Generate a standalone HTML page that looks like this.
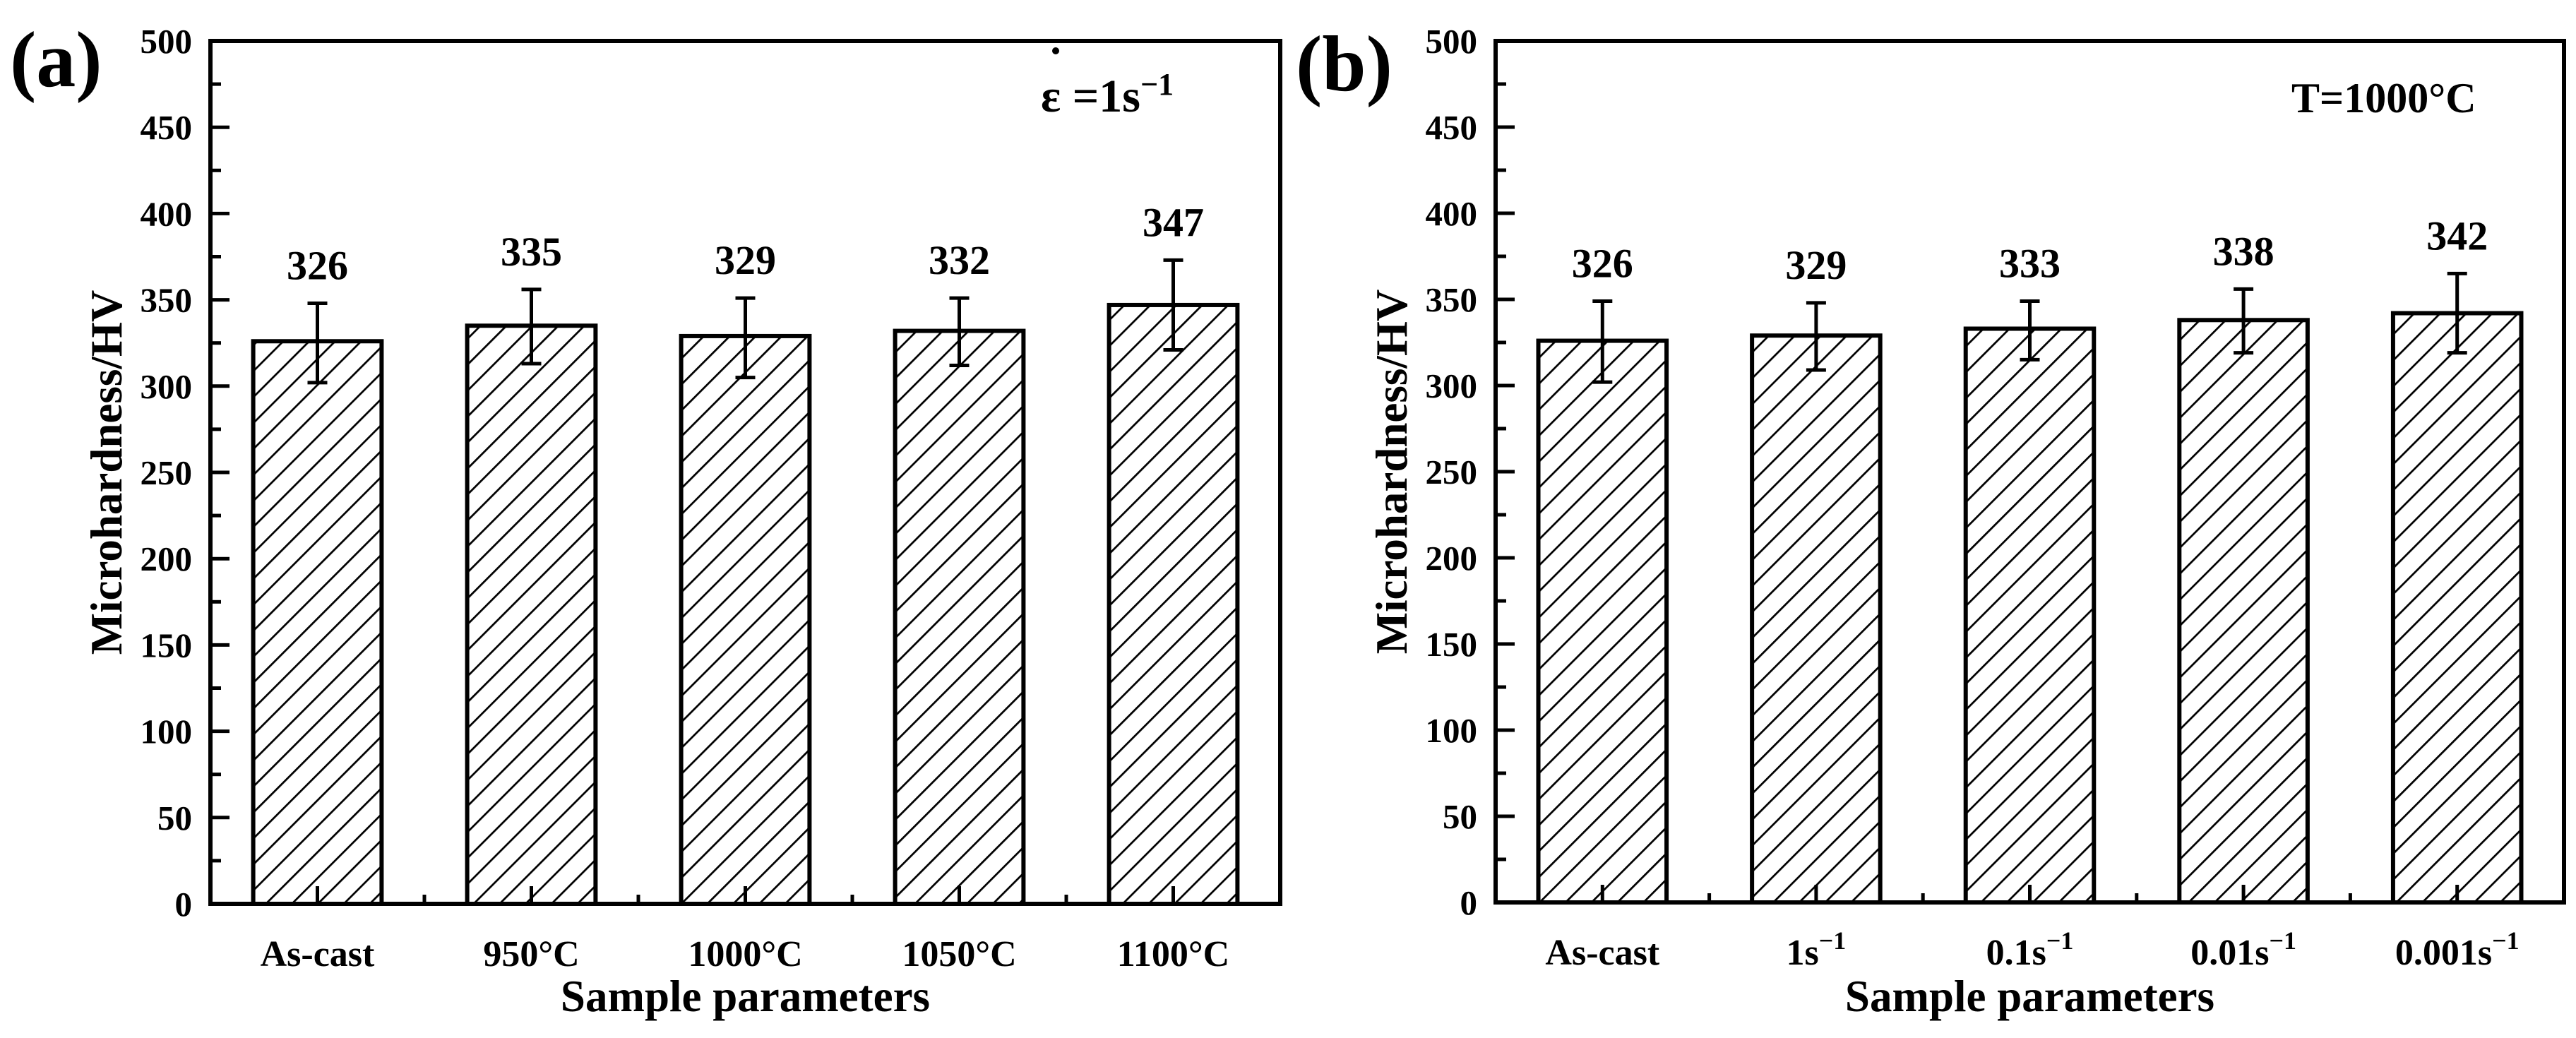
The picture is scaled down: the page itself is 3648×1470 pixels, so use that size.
<!DOCTYPE html>
<html><head><meta charset="utf-8"><style>
html,body{margin:0;padding:0;background:#fff}
svg{display:block}
text{font-family:"Liberation Serif",serif;font-weight:bold;fill:#000}
</style></head><body>
<svg id="chart" width="3648" height="1470" viewBox="0 0 3648 1470" xmlns="http://www.w3.org/2000/svg">
<defs>
<pattern id="hatch" patternUnits="userSpaceOnUse" width="26" height="26" patternTransform="rotate(45)">
<line x1="0" y1="0" x2="0" y2="26" stroke="#000" stroke-width="5.5"/>
</pattern>
</defs>
<g id="panels"></g>
</svg>
<script>
const catsA = ["As-cast","950°C","1000°C","1050°C","1100°C"];
const valsA = [326,335,329,332,347];
const errHiA = [348,356,351,351,373];
const errLoA = [302,313,305,312,321];
const catsB = ["As-cast","1s","0.1s","0.01s","0.001s"];
const supB = [false,true,true,true,true];
const valsB = [326,329,333,338,342];
const errHiB = [349,348,349,356,365];
const errLoB = [302,309,315,319,319];
const yTicks = [0,50,100,150,200,250,300,350,400,450,500];

const NS="http://www.w3.org/2000/svg";
const root=document.getElementById('panels');
function mk(tag,attrs,parent,txt){const e=document.createElementNS(NS,tag);for(const k in attrs)e.setAttribute(k,attrs[k]);if(txt!==undefined)e.textContent=txt;(parent||root).appendChild(e);return e;}

function panel(id,L,R,T,B,cats,sup,vals,hi,lo){
  const g=mk('g',{});
  
  
  const n=cats.length, cw=(R-L)/n;
  const y=v=>B-(v/500)*(B-T);
  const xc=i=>L+cw*(i+0.5);
  const bw=cw*0.6;
  for(let i=0;i<n;i++){
    const r=mk('rect',{x:xc(i)-bw/2,y:y(vals[i]),width:bw,height:B-y(vals[i]),fill:'url(#hatch)',stroke:'#000','stroke-width':6},g);
    
    
    const eb=mk('g',{stroke:'#000','stroke-width':5},g);
    
    
    mk('line',{x1:xc(i),x2:xc(i),y1:y(hi[i]),y2:y(lo[i])},eb);
    mk('line',{x1:xc(i)-14,x2:xc(i)+14,y1:y(hi[i]),y2:y(hi[i])},eb);
    mk('line',{x1:xc(i)-14,x2:xc(i)+14,y1:y(lo[i]),y2:y(lo[i])},eb);
    const t=mk('text',{x:xc(i),y:y(hi[i])-34,'text-anchor':'middle','font-size':58},g,String(vals[i]));
    
    
    const c=mk('text',{x:xc(i),y:B+88,'text-anchor':'middle','font-size':52},g);
    
    
    mk('tspan',{},c,cats[i]);
    if(sup[i]) mk('tspan',{dy:-22,'font-size':36},c,'−1');
    mk('line',{x1:xc(i),x2:xc(i),y1:B,y2:B-25,stroke:'#000','stroke-width':5},g);
    if(i>0) mk('line',{x1:L+cw*i,x2:L+cw*i,y1:B,y2:B-13,stroke:'#000','stroke-width':5},g);
  }
  for(let k=0;k<yTicks.length;k++){
    const v=yTicks[k];
    mk('line',{x1:L,x2:L+27,y1:y(v),y2:y(v),stroke:'#000','stroke-width':5},g);
    if(v<500) mk('line',{x1:L,x2:L+15,y1:y(v+25),y2:y(v+25),stroke:'#000','stroke-width':5},g);
    const t=mk('text',{x:L-26,y:y(v)+17,'text-anchor':'end','font-size':49},g,String(v));
    
    
  }
  const f=mk('rect',{x:L,y:T,width:R-L,height:B-T,fill:'none',stroke:'#000','stroke-width':6},g);
  
  
  const xt=mk('text',{x:(L+R)/2,y:1432,'text-anchor':'middle','font-size':63},g,'Sample parameters');
  
  
  const yt=mk('text',{x:0,y:0,'text-anchor':'middle','font-size':63,transform:'translate('+(L-126)+','+((T+B)/2)+') rotate(-90)'},g,'Microhardness/HV');
  
  
  return g;
}
panel('a',298,1813,58,1280,catsA,[false,false,false,false,false],valsA,errHiA,errLoA);
panel('b',2118,3631,58,1278,catsB,supB,valsB,errHiB,errLoB);

const la=mk('text',{x:14,y:122,'font-size':112},root,'(a)');


const lb=mk('text',{x:1835,y:128,'font-size':112},root,'(b)');



const eps=mk('text',{x:1474,y:158,'font-size':66},root);


mk('tspan',{},eps,'ε =1s');
mk('tspan',{dy:-24,'font-size':44},eps,'−1');
const dot=mk('circle',{cx:1495,cy:72,r:5,fill:'#000'},root);



const tt=mk('text',{x:3245,y:159,'font-size':60},root,'T=1000°C');


</script>
</body></html>
